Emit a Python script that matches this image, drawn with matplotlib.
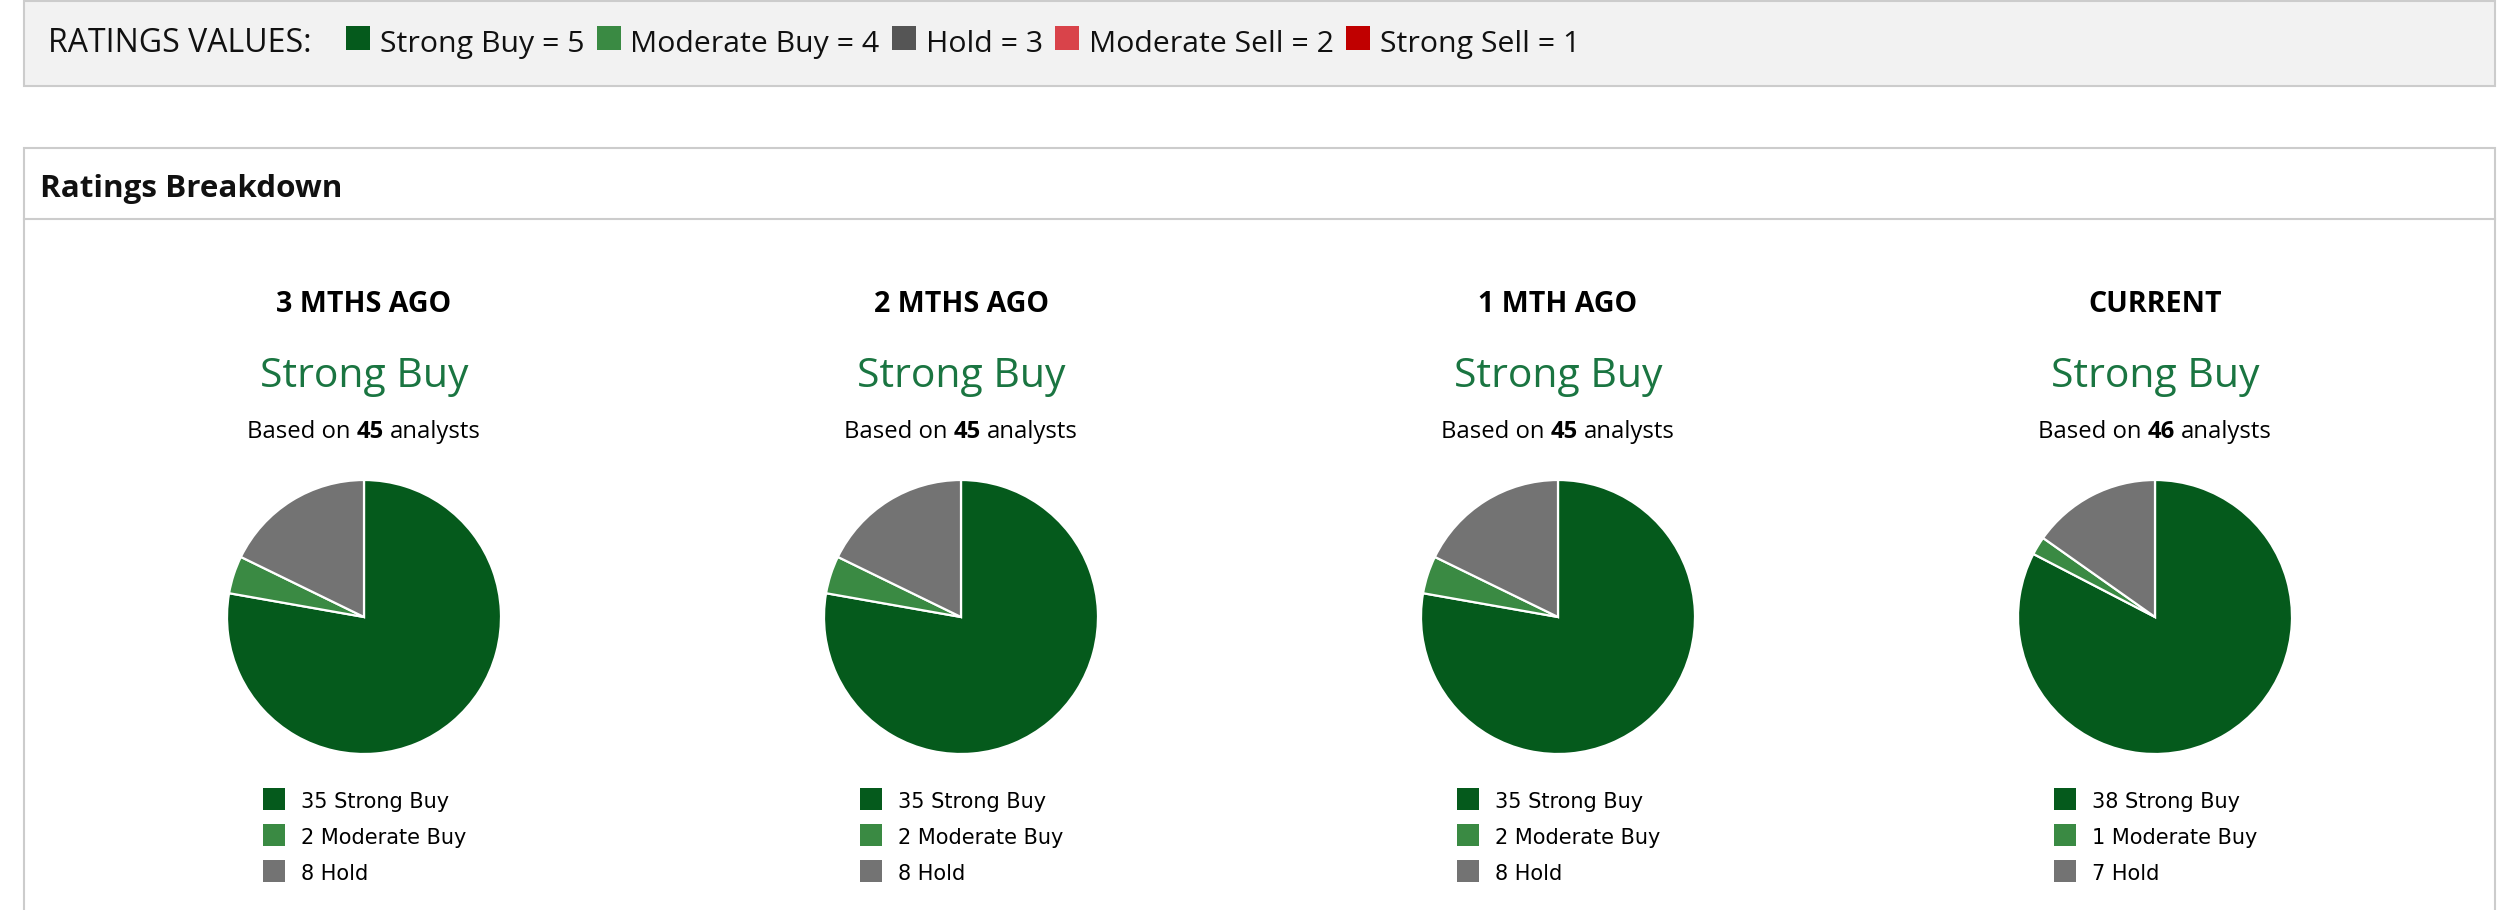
import matplotlib
matplotlib.use('Agg')
import matplotlib.pyplot as plt
import matplotlib.patches as patches

W, H = 2508, 910

rating_names = ['Strong Buy', 'Moderate Buy', 'Hold', 'Moderate Sell', 'Strong Sell']
rating_scores = [5, 4, 3, 2, 1]
rating_colors = ['#055a1c', '#3a8a43', '#555555', '#d9434a', '#c00000']

periods = ['3 MTHS AGO', '2 MTHS AGO', '1 MTH AGO', 'CURRENT']
consensus = ['Strong Buy', 'Strong Buy', 'Strong Buy', 'Strong Buy']
analysts = [45, 45, 45, 46]
strong_buy = [35, 35, 35, 38]
moderate_buy = [2, 2, 2, 1]
hold = [8, 8, 8, 7]

slice_labels = ['Strong Buy', 'Moderate Buy', 'Hold']
slice_colors = ['#055a1c', '#3a8a43', '#737373']

HEAD_FONT = 'Open Sans'
LEG_FONT = 'DejaVu Sans'


def py(y):
    # pixel rows counted from the top
    return H - y


def text_width(ax, renderer, s, **kw):
    t = ax.text(0, 0, s, **kw)
    w = t.get_window_extent(renderer).width
    t.remove()
    return w


def main() -> None:
    fig = plt.figure(figsize=(W / 100, H / 100), dpi=100)
    ax = fig.add_axes([0, 0, 1, 1])
    ax.set_xlim(0, W)
    ax.set_ylim(0, H)
    ax.axis('off')
    renderer = fig.canvas.get_renderer()

    # top box with rating values
    ax.add_patch(patches.Rectangle((24, py(86)), 2471, 85, facecolor='#f2f2f2',
                                   edgecolor='#cccccc', linewidth=1.5))
    ax.text(48, py(52), 'RATINGS VALUES:', fontfamily=HEAD_FONT, fontsize=23,
            color='#111111', va='baseline')
    kw = dict(fontfamily=HEAD_FONT, fontsize=21.8, color='#111111', va='baseline')
    x = 346
    for name, score, color in zip(rating_names, rating_scores, rating_colors):
        ax.add_patch(patches.Rectangle((x, py(50)), 24, 24, facecolor=color, edgecolor='none'))
        label = f'{name} = {score}'
        ax.text(x + 34, py(52), label, **kw)
        x += 34 + text_width(ax, renderer, label, **kw) + 12

    # breakdown box
    ax.add_patch(patches.Rectangle((24, py(H + 10)), 2471, H + 10 - 148, facecolor='white',
                                   edgecolor='#cccccc', linewidth=1.5))
    ax.plot([24, 2495], [py(219), py(219)], color='#cccccc', linewidth=1.5)
    ax.text(40, py(197), 'Ratings Breakdown', fontfamily=HEAD_FONT, fontsize=22.6,
            fontweight='bold', color='#111111', va='baseline')

    centers = [364, 961, 1558, 2155]
    for i, cx in enumerate(centers):
        ax.text(cx, py(312), periods[i], fontfamily=HEAD_FONT, fontsize=20.6,
                fontweight='bold', color='black', ha='center', va='baseline')
        ax.text(cx, py(387), consensus[i], fontfamily=HEAD_FONT, fontsize=29.4,
                color='#1a7541', ha='center', va='baseline')

        # "Based on N analysts" with bold count
        pieces = [('Based on', 'normal'), (str(analysts[i]), 'bold'), ('analysts', 'normal')]
        bkw = dict(fontfamily=HEAD_FONT, fontsize=17.2, color='black', va='baseline')
        space = text_width(ax, renderer, 'a a', **bkw) - text_width(ax, renderer, 'aa', **bkw)
        widths = [text_width(ax, renderer, s, fontweight=wt, **bkw) for s, wt in pieces]
        total = sum(widths) + space * (len(pieces) - 1)
        x = cx - total / 2
        for (s, wt), w in zip(pieces, widths):
            ax.text(x, py(438), s, fontweight=wt, **bkw)
            x += w + space

        values = [strong_buy[i], moderate_buy[i], hold[i]]
        ax.pie(values, colors=slice_colors, startangle=90, counterclock=False,
               center=(cx, py(617)), radius=137, frame=True,
               wedgeprops=dict(edgecolor='white', linewidth=1.6))

        lx = cx - 101
        for j, (v, name, color) in enumerate(zip(values, slice_labels, slice_colors)):
            top = 788 + 36 * j
            ax.add_patch(patches.Rectangle((lx, py(top + 22)), 22, 22, facecolor=color,
                                           edgecolor='none'))
            ax.text(lx + 38, py(top + 20), f'{v} {name}', fontfamily=LEG_FONT, fontsize=15,
                    color='black', va='baseline')

    ax.set_xlim(0, W)
    ax.set_ylim(0, H)
    ax.set_aspect('auto')
    ax.axis('off')
    fig.savefig('out.png', dpi=100)


if __name__ == '__main__':
    main()
